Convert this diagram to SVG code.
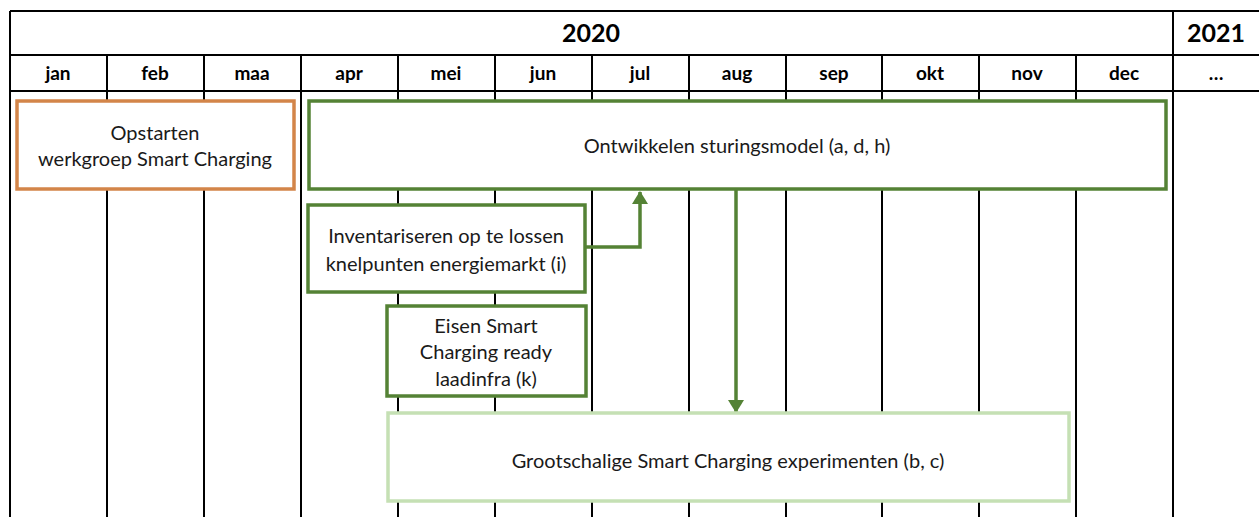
<svg xmlns="http://www.w3.org/2000/svg" width="1259" height="517" viewBox="0 0 1259 517">
<defs>
<style>
.grid{stroke:#000;stroke-width:2;fill:none}
.hdr{font-family:Lato,"Open Sans","Liberation Sans",sans-serif;font-weight:bold;fill:#000;text-anchor:middle}
.yr{font-size:25px}
.mo{font-size:19px}
.lbl{font-family:Lato,"Open Sans","Liberation Sans",sans-serif;font-size:20px;fill:#1a1a1a;text-anchor:middle}
.box{fill:#fff;stroke-width:3.5}
.dark{stroke:#548235}
.conn{stroke:#548235;stroke-width:3.5;fill:none}
</style>
<marker id="arr" markerWidth="13" markerHeight="16" refX="12" refY="8" orient="auto" markerUnits="userSpaceOnUse">
<path d="M0,0 L13,8 L0,16 Z" fill="#548235"/>
</marker>
</defs>
<rect width="1259" height="517" fill="#fff"/>
<g id="grid" class="grid">
<line x1="10" y1="11" x2="1259" y2="11"/>
<line x1="10" y1="55" x2="1259" y2="55"/>
<line x1="10" y1="91" x2="1259" y2="91"/>
<line x1="10" y1="11" x2="10" y2="517"/>
<line x1="1173" y1="11" x2="1173" y2="517"/>
<line x1="107" y1="55" x2="107" y2="517"/>
<line x1="204" y1="55" x2="204" y2="517"/>
<line x1="301" y1="55" x2="301" y2="517"/>
<line x1="398" y1="55" x2="398" y2="517"/>
<line x1="495" y1="55" x2="495" y2="517"/>
<line x1="592" y1="55" x2="592" y2="517"/>
<line x1="689" y1="55" x2="689" y2="517"/>
<line x1="786" y1="55" x2="786" y2="517"/>
<line x1="882" y1="55" x2="882" y2="517"/>
<line x1="979" y1="55" x2="979" y2="517"/>
<line x1="1076" y1="55" x2="1076" y2="517"/>
</g>
<g id="header">
<text class="hdr yr" x="591" y="42">2020</text>
<text class="hdr yr" x="1216" y="42">2021</text>
<text class="hdr mo" x="58" y="80">jan</text>
<text class="hdr mo" x="155" y="80">feb</text>
<text class="hdr mo" x="252" y="80">maa</text>
<text class="hdr mo" x="349" y="80">apr</text>
<text class="hdr mo" x="446" y="80">mei</text>
<text class="hdr mo" x="543" y="80">jun</text>
<text class="hdr mo" x="640" y="80">jul</text>
<text class="hdr mo" x="737" y="80">aug</text>
<text class="hdr mo" x="834" y="80">sep</text>
<text class="hdr mo" x="930" y="80">okt</text>
<text class="hdr mo" x="1027" y="80">nov</text>
<text class="hdr mo" x="1124" y="80">dec</text>
<text class="hdr mo" x="1216" y="80">…</text>
</g>
<g id="connectors">
<path class="conn" d="M586,247 H640 V192" marker-end="url(#arr)"/>
<path class="conn" d="M736,190 V412" marker-end="url(#arr)"/>
</g>
<g id="n-opstarten">
<rect class="box" x="17" y="101" width="277" height="88" stroke="#D38549"/>
<text class="lbl" x="155" y="140">Opstarten</text>
<text class="lbl" x="155" y="166">werkgroep Smart Charging</text>
</g>
<g id="n-ontwikkelen">
<rect class="box dark" x="309" y="101" width="857" height="88"/>
<text class="lbl" x="737" y="153">Ontwikkelen sturingsmodel (a, d, h)</text>
</g>
<g id="n-inventariseren">
<rect class="box dark" x="308" y="205" width="277" height="87"/>
<text class="lbl" x="446" y="243">Inventariseren op te lossen</text>
<text class="lbl" x="446" y="271">knelpunten energiemarkt (i)</text>
</g>
<g id="n-eisen">
<rect class="box dark" x="387" y="306" width="199" height="90"/>
<text class="lbl" x="486" y="333">Eisen Smart</text>
<text class="lbl" x="486" y="359">Charging ready</text>
<text class="lbl" x="486" y="386">laadinfra (k)</text>
</g>
<g id="n-grootschalige">
<rect class="box" x="388" y="413" width="681" height="88" stroke="#C5E0B4"/>
<text class="lbl" x="728" y="468">Grootschalige Smart Charging experimenten (b, c)</text>
</g>
</svg>
